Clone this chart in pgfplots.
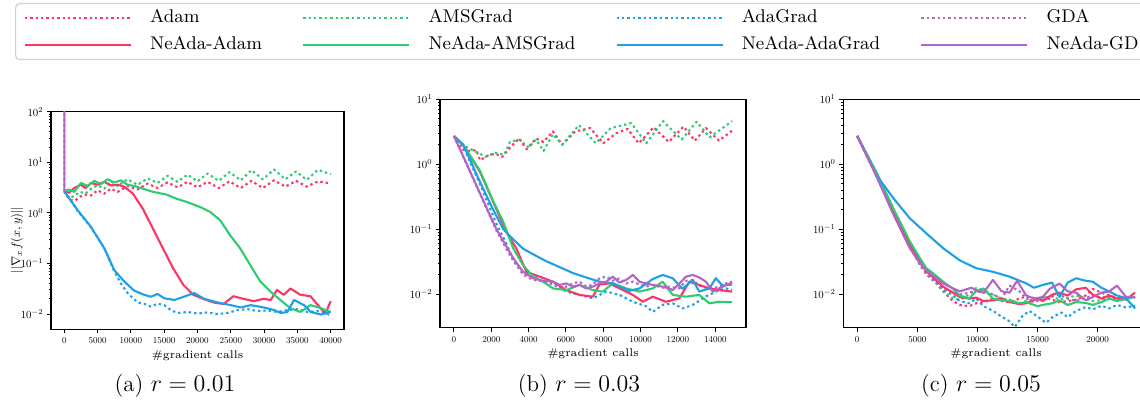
\documentclass[border=0pt]{standalone}
\usepackage{pgfplots}
\pgfplotsset{compat=1.18}
\definecolor{cred}{RGB}{255,51,102}
\definecolor{cgreen}{RGB}{46,204,113}
\definecolor{cblue}{RGB}{30,160,230}
\definecolor{cpurple}{RGB}{180,100,200}
\tikzset{
  dotl/.style={dash pattern=on 1.2pt off 1.5pt, line width=1.05pt},
  soll/.style={solid, line width=1.05pt},
}
\pgfplotsset{
  myax/.style={
    scale only axis, anchor=south west,
    axis line style={line width=0.6pt},
    tick align=outside, tick pos=left,
    major tick length=2pt, minor tick length=1.1pt,
    every tick/.style={line width=0.5pt, black},
    yticklabel style={font=\fontsize{10}{12}\selectfont, scale=0.54},
    xticklabel style={font=\fontsize{10}{12}\selectfont, scale=0.45, yshift=-1.5pt},
    xlabel={\#gradient calls},
    xlabel style={font=\fontsize{5.6}{6.5}\selectfont, yshift=1.5pt},
    scaled x ticks=false,
    /pgf/number format/set thousands separator={},
    every axis plot/.append style={line join=round},
    no markers,
  }
}
\begin{document}
\begin{tikzpicture}
\useasboundingbox (0,0) rectangle (570pt,205.5pt);

% ---------- legend ----------
\begin{axis}[at={(0pt,0pt)}, anchor=south west, scale only axis,
  width=570pt, height=205.5pt, hide axis, xmin=0, xmax=1, ymin=0, ymax=1,
  legend columns=4, legend cell align=left,
  legend image code/.code={\draw[#1, line width=1.25pt] (0pt,0pt) -- (53pt,0pt);},
  legend style={at={(0.0132,0.9927)}, anchor=north west, draw=black!18,
    rounded corners=2pt, line width=0.6pt, font=\fontsize{9.2}{10}\selectfont,
    inner xsep=4pt, inner ysep=3pt, row sep=5pt,
    /tikz/every even column/.append style={column sep=20pt},
    /tikz/every odd column/.append style={column sep=9pt},
    nodes={inner sep=0pt, text height=6.5pt, text depth=2pt}}]
\addlegendimage{cred, dotl}\addlegendentry{Adam}
\addlegendimage{cgreen, dotl}\addlegendentry{AMSGrad}
\addlegendimage{cblue, dotl}\addlegendentry{AdaGrad}
\addlegendimage{cpurple, dotl}\addlegendentry{GDA}
\addlegendimage{cred, soll}\addlegendentry{NeAda-Adam}
\addlegendimage{cgreen, soll}\addlegendentry{NeAda-AMSGrad}
\addlegendimage{cblue, soll}\addlegendentry{NeAda-AdaGrad}
\addlegendimage{cpurple, soll}\addlegendentry{NeAda-GD\hspace*{24pt}}
\end{axis}

% ---------- panel (a) ----------
\begin{axis}[ymode=log, myax, at={(25.5pt,40.85pt)}, width=146.5pt, height=108.8pt,
  xmin=-2000, xmax=42000, ymin=0.005, ymax=100,
  xtick={0,5000,...,40000}, ytick={0.01,0.1,1,10,100}]
\addplot[cred, dotl] coordinates {(0,2.67)(800,1.8)(1600,1.75)(2400,2.1)(3200,2.3)(4000,2.2)(5000,2.8)(6000,2.4)(7000,3.0)(8000,2.6)(9500,3.4)(11000,2.9)(12500,3.8)(14000,3.1)(15500,4.0)(17000,3.2)(18500,4.1)(20000,3.2)(21500,4.1)(23200,3.1)(24800,4.2)(26500,3.1)(28100,4.3)(29800,3.1)(31500,4.4)(33200,3.3)(34800,4.3)(36400,3.3)(38100,4.2)(40000,3.8)};
\addplot[cgreen, dotl] coordinates {(0,2.67)(800,1.95)(1600,2.2)(2400,2.6)(3200,2.4)(4000,3.0)(5000,3.5)(6000,3.0)(7000,4.2)(8000,3.4)(9500,4.6)(11000,3.6)(12500,4.8)(14000,3.9)(15500,5.4)(17000,4.1)(18500,5.7)(20000,4.2)(21500,6.0)(23200,4.3)(24800,6.4)(26500,4.4)(28100,7.0)(29800,4.6)(31500,7.2)(33200,4.6)(34800,6.6)(36400,4.5)(38100,7.1)(40000,5.8)};
\addplot[cblue, dotl] coordinates {(0,2.67)(2000,1.1)(4000,0.52)(6000,0.2)(7500,0.07)(8500,0.04)(9500,0.026)(11000,0.017)(12000,0.016)(13000,0.014)(14000,0.016)(15000,0.015)(16000,0.012)(17000,0.0105)(18500,0.011)(20000,0.0102)(21500,0.0108)(23000,0.01)(24500,0.0105)(26000,0.012)(27500,0.0125)(29000,0.0115)(30500,0.0118)(32000,0.011)(33500,0.012)(35000,0.0125)(36500,0.011)(38000,0.0115)(39000,0.0105)(40000,0.0095)};
\addplot[cpurple, dotl] coordinates {(0,2.67)(1,10000)};
\addplot[cred, soll] coordinates {(0,2.67)(700,2.5)(1500,3.1)(2500,3.6)(3200,3.1)(4000,3.9)(5000,3.6)(6000,4.1)(7000,3.5)(8000,3.6)(9000,3.3)(10300,2.4)(11800,1.2)(13300,0.49)(14800,0.2)(16350,0.08)(17860,0.038)(19370,0.024)(20880,0.02)(22380,0.017)(23890,0.0158)(25400,0.0225)(26900,0.02)(28420,0.018)(29930,0.02)(31000,0.019)(31940,0.03)(32950,0.024)(33950,0.032)(35460,0.024)(36970,0.0225)(38480,0.013)(39230,0.0103)(40000,0.018)};
\addplot[cgreen, soll] coordinates {(0,2.67)(700,2.9)(1500,2.6)(2500,3.9)(3500,3.4)(4500,4.3)(5500,3.7)(6500,4.6)(7500,4.0)(8500,4.4)(9500,3.6)(10500,3.4)(11820,3.0)(13330,2.6)(15340,2.3)(16850,1.9)(18360,1.65)(20370,1.31)(21880,1.05)(23390,0.72)(24900,0.36)(26400,0.2)(27900,0.094)(29430,0.044)(30930,0.028)(32440,0.019)(33950,0.013)(35460,0.011)(36970,0.015)(38230,0.0135)(39230,0.012)(40000,0.011)};
\addplot[cblue, soll] coordinates {(0,2.67)(2000,1.13)(4000,0.53)(6000,0.2)(7500,0.074)(9000,0.044)(10500,0.029)(12000,0.024)(13000,0.022)(14000,0.025)(15000,0.0205)(16500,0.019)(17500,0.021)(19500,0.026)(21000,0.02)(23000,0.017)(25000,0.015)(26500,0.0135)(28000,0.015)(30000,0.0135)(31500,0.012)(32500,0.0105)(33500,0.011)(34500,0.019)(36000,0.015)(37000,0.011)(38500,0.0098)(40000,0.011)};
\addplot[cpurple, soll] coordinates {(0,2.67)(1,10000)};
\end{axis}
\node[rotate=90, font=\fontsize{10}{12}\selectfont, scale=0.62] at (8.5pt,85.5pt) {$||\nabla_x f(x, y)||$};

% ---------- panel (b) ----------
\begin{axis}[ymode=log, myax, at={(220pt,41.65pt)}, width=153pt, height=114.2pt,
  xmin=-745, xmax=15645, ymin=0.00303, ymax=10,
  xtick={0,2000,...,14000}, ytick={0.01,0.1,1,10}]
\addplot[cred, dotl] coordinates {(0,2.72)(400,1.7)(800,1.6)(1200,1.65)(1400,1.15)(1800,1.35)(2200,1.45)(2600,1.3)(3000,1.8)(3500,2.5)(3900,1.7)(4400,2.5)(4800,2.2)(5300,3.2)(5800,2.0)(6500,3.2)(7300,3.6)(8000,2.1)(8700,3.0)(9300,3.5)(9900,2.1)(10700,3.7)(11500,2.2)(12300,3.8)(12900,2.3)(13500,3.6)(14200,2.3)(14900,3.3)};
\addplot[cgreen, dotl] coordinates {(0,2.72)(400,2.0)(900,1.7)(1300,1.5)(1700,1.3)(2200,1.5)(2700,1.4)(3000,2.2)(3500,2.4)(4000,1.8)(4400,2.4)(4800,1.6)(5300,2.9)(5800,2.0)(6700,4.0)(7600,2.1)(8400,3.6)(9500,4.3)(10300,2.1)(11200,4.6)(12200,2.4)(13000,4.5)(13700,2.6)(14900,4.6)};
\addplot[cblue, dotl] coordinates {(0,2.72)(500,1.85)(1390,0.5)(2280,0.12)(2810,0.06)(3170,0.034)(3700,0.022)(4240,0.0175)(4600,0.0185)(5310,0.015)(6020,0.0109)(6730,0.0097)(7440,0.0086)(8160,0.0109)(8870,0.0097)(9580,0.0076)(10290,0.0065)(10650,0.0053)(11180,0.0068)(11720,0.0072)(12250,0.006)(12790,0.0068)(13500,0.0092)(14030,0.0109)(14570,0.0122)(14900,0.0115)};
\addplot[cpurple, dotl] coordinates {(0,2.72)(500,1.3)(1390,0.35)(2280,0.095)(2800,0.05)(3170,0.033)(3700,0.02)(4240,0.0165)(4770,0.0158)(5310,0.014)(5660,0.0125)(6020,0.013)(6380,0.0146)(6730,0.0155)(7090,0.013)(7440,0.014)(7800,0.0175)(8160,0.0185)(8510,0.016)(8870,0.0175)(9230,0.0145)(9580,0.0155)(9940,0.014)(10290,0.013)(10650,0.0138)(11180,0.0125)(11540,0.013)(12080,0.0122)(12430,0.016)(12790,0.0165)(13140,0.0135)(13500,0.0125)(13860,0.0122)(14210,0.013)(14570,0.0146)(14900,0.0155)};
\addplot[cred, soll] coordinates {(0,2.72)(500,1.95)(1390,0.77)(2100,0.265)(2810,0.09)(3350,0.05)(3880,0.022)(4600,0.0185)(5310,0.0155)(6020,0.0115)(6730,0.0097)(7440,0.0091)(7800,0.014)(8340,0.0146)(8870,0.0122)(9580,0.0097)(10120,0.0076)(10650,0.0091)(11360,0.0076)(12080,0.0086)(12610,0.0155)(13140,0.0138)(13680,0.0122)(14210,0.0115)(14900,0.0109)};
\addplot[cgreen, soll] coordinates {(0,2.72)(500,1.98)(1390,0.8)(2100,0.27)(2640,0.13)(3170,0.051)(3700,0.028)(4240,0.0185)(4770,0.0155)(5310,0.0122)(6020,0.0115)(6730,0.0138)(7440,0.0115)(7980,0.0109)(8510,0.0146)(9230,0.0122)(9940,0.0109)(10650,0.0122)(11180,0.0155)(11720,0.0097)(12430,0.0091)(13140,0.0097)(13680,0.0072)(14210,0.0076)(14900,0.0075)};
\addplot[cblue, soll] coordinates {(0,2.72)(500,2.0)(1390,0.54)(2100,0.2)(2640,0.1)(3170,0.07)(3700,0.05)(4240,0.041)(4950,0.032)(5660,0.026)(6380,0.021)(7090,0.018)(7800,0.0155)(8510,0.0146)(8870,0.013)(9400,0.0112)(9940,0.0122)(10650,0.017)(11180,0.0197)(11720,0.0175)(12250,0.012)(12790,0.0165)(13140,0.0109)(13680,0.0122)(14030,0.0175)(14390,0.0135)(14900,0.014)};
\addplot[cpurple, soll] coordinates {(0,2.72)(500,1.32)(1390,0.36)(2280,0.099)(2800,0.055)(3170,0.036)(3700,0.022)(4240,0.0175)(4770,0.016)(5310,0.0155)(5660,0.0138)(6020,0.0146)(6380,0.013)(6730,0.0138)(7090,0.0122)(7440,0.013)(7800,0.0146)(8160,0.0155)(8510,0.0185)(8870,0.015)(9230,0.0165)(9580,0.0197)(9940,0.0155)(10290,0.0146)(10650,0.0138)(11180,0.013)(11540,0.0122)(11720,0.0115)(12080,0.0146)(12430,0.0185)(12790,0.0197)(13140,0.018)(13500,0.0155)(13860,0.0109)(14210,0.0122)(14570,0.0138)(14900,0.015)};
\end{axis}

% ---------- panel (c) ----------
\begin{axis}[ymode=log, myax, at={(421.65pt,41.65pt)}, width=152.8pt, height=114.2pt,
  xmin=-1155, xmax=24255, ymin=0.00303, ymax=10,
  xtick={0,5000,...,20000}, ytick={0.01,0.1,1,10}]
\addplot[cred, dotl] coordinates {(0,2.72)(1600,0.72)(3000,0.19)(4370,0.058)(5200,0.03)(5750,0.021)(6580,0.015)(7140,0.011)(7970,0.0078)(8520,0.0068)(9300,0.0065)(9900,0.0072)(10500,0.0075)(11290,0.0085)(12000,0.0078)(12670,0.0075)(13500,0.0085)(14050,0.0092)(15000,0.0085)(15430,0.009)(16200,0.0082)(16820,0.0075)(17500,0.0078)(18200,0.0082)(19000,0.0095)(19580,0.012)(20300,0.0105)(20970,0.0095)(21600,0.0088)(22350,0.0085)(23100,0.009)};
\addplot[cgreen, dotl] coordinates {(0,2.72)(1600,0.74)(3000,0.2)(4370,0.06)(5200,0.028)(5750,0.02)(6580,0.0145)(7140,0.011)(7970,0.0085)(8520,0.0082)(9300,0.0098)(9900,0.0125)(10500,0.0105)(11290,0.0098)(12000,0.0085)(12670,0.0082)(13500,0.0072)(14050,0.0078)(15000,0.0085)(15430,0.0088)(16200,0.0092)(16820,0.0082)(17500,0.0088)(18200,0.0095)(19000,0.0085)(19580,0.0078)(20300,0.008)(20970,0.0088)(21600,0.0082)(22350,0.0085)(23100,0.0088)};
\addplot[cblue, dotl] coordinates {(0,2.72)(1600,0.7)(3000,0.19)(4370,0.058)(5200,0.03)(5750,0.022)(6580,0.015)(7140,0.012)(7970,0.0095)(8520,0.0078)(9300,0.0072)(9900,0.0085)(10500,0.0065)(11290,0.0055)(12000,0.0045)(12670,0.0038)(13100,0.0031)(13700,0.0045)(14300,0.0055)(15000,0.0045)(15700,0.0036)(16300,0.0045)(17000,0.0052)(17500,0.0044)(18200,0.0055)(19000,0.0063)(19580,0.0058)(20300,0.0066)(20970,0.006)(21600,0.0068)(22350,0.0062)(23100,0.0066)};
\addplot[cpurple, dotl] coordinates {(0,2.72)(1600,0.66)(3000,0.175)(4370,0.053)(5200,0.029)(5750,0.021)(6580,0.015)(7140,0.012)(7970,0.0105)(8520,0.0098)(9300,0.0105)(9900,0.0112)(10500,0.0115)(11290,0.0098)(12000,0.0085)(12670,0.0135)(13500,0.011)(14050,0.0085)(14700,0.0075)(15430,0.0082)(16200,0.0092)(16820,0.0098)(17500,0.0085)(18200,0.0078)(19000,0.0088)(19580,0.0095)(20300,0.0088)(20970,0.0092)(21600,0.0085)(22350,0.0092)(23100,0.0088)};
\addplot[cred, soll] coordinates {(0,2.72)(1600,0.72)(3000,0.19)(4370,0.058)(5200,0.032)(5750,0.022)(6000,0.0205)(6580,0.016)(7140,0.013)(7970,0.0105)(8520,0.009)(9300,0.0085)(9900,0.0088)(10500,0.0078)(11290,0.008)(12000,0.0085)(12670,0.0075)(13500,0.007)(14050,0.0072)(15000,0.0085)(15430,0.0078)(16200,0.0098)(16820,0.0105)(17500,0.0095)(18200,0.0118)(19000,0.0125)(19580,0.0098)(20300,0.0085)(20970,0.0095)(21600,0.0085)(22350,0.0082)(23100,0.0105)};
\addplot[cgreen, soll] coordinates {(0,2.72)(1600,0.75)(3000,0.21)(4370,0.065)(5200,0.036)(5750,0.025)(6580,0.019)(7140,0.0155)(7970,0.012)(8520,0.0095)(9300,0.0085)(9900,0.0112)(10500,0.0122)(11290,0.0085)(12000,0.008)(12670,0.0078)(13500,0.0072)(14050,0.0075)(15000,0.0065)(15430,0.0068)(16200,0.0072)(16820,0.008)(17500,0.0068)(18200,0.0075)(19000,0.0073)(19580,0.0068)(20300,0.0075)(20970,0.0085)(21600,0.0078)(22350,0.0085)(23100,0.009)};
\addplot[cblue, soll] coordinates {(0,2.72)(1600,0.68)(3000,0.3)(4370,0.147)(5750,0.086)(7140,0.051)(8520,0.033)(9900,0.025)(11290,0.022)(12670,0.0185)(14050,0.0146)(14700,0.0125)(15430,0.0138)(16200,0.015)(16820,0.009)(17500,0.015)(18200,0.0175)(19000,0.016)(19580,0.0155)(20300,0.0125)(20970,0.0109)(21600,0.0095)(22350,0.0086)(23100,0.006)};
\addplot[cpurple, soll] coordinates {(0,2.72)(1600,0.65)(3000,0.17)(4370,0.051)(5200,0.03)(5750,0.023)(6580,0.0175)(7140,0.0146)(7970,0.0122)(8520,0.011)(9500,0.0125)(10000,0.011)(10500,0.0105)(11290,0.0165)(12000,0.011)(12670,0.0105)(13300,0.016)(14050,0.0095)(14700,0.0085)(15430,0.009)(16000,0.012)(16820,0.0145)(17500,0.011)(18200,0.0105)(19000,0.008)(19580,0.009)(20300,0.0105)(20970,0.011)(21600,0.0135)(22350,0.009)(23100,0.009)};
\end{axis}

% ---------- captions ----------
\node[font=\fontsize{11.5}{13}\selectfont] at (87.5pt,12.5pt) {(a) $r = 0.01$};
\node[font=\fontsize{11.5}{13}\selectfont] at (289.5pt,12.5pt) {(b) $r = 0.03$};
\node[font=\fontsize{11.5}{13}\selectfont] at (490.5pt,12.5pt) {(c) $r = 0.05$};
\end{tikzpicture}
\end{document}
